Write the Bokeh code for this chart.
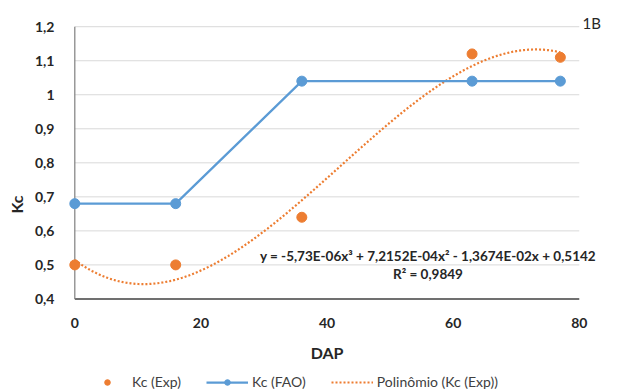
import numpy as np
from bokeh.plotting import figure
from bokeh.models import Legend, LegendItem, Label, Range1d, FixedTicker
from bokeh.core.properties import value
from bokeh.embed import file_html
from bokeh.resources import INLINE

# ---- data ----
dap = [0, 16, 36, 63, 77]
kc_exp = [0.50, 0.50, 0.64, 1.12, 1.11]
kc_fao = [0.68, 0.68, 1.04, 1.04, 1.04]
x_ticks = [0, 20, 40, 60, 80]
x_tick_labels = ["0", "20", "40", "60", "80"]
y_ticks = [0.4, 0.5, 0.6, 0.7, 0.8, 0.9, 1.0, 1.1, 1.2]
y_tick_labels = ["0,4", "0,5", "0,6", "0,7", "0,8", "0,9", "1", "1,1", "1,2"]
equation = "y = -5,73E-06x\u00b3 + 7,2152E-04x\u00b2 - 1,3674E-02x + 0,5142"
r2_text = "R\u00b2 = 0,9849"
panel_tag = "1B"

# cubic trend line fitted to the experimental points
coef = np.polyfit(dap, kc_exp, 3)
trend_x = np.linspace(min(dap), max(dap), 200)
trend_y = np.polyval(coef, trend_x)

ORANGE = "#ED7D31"
BLUE = "#5B9BD5"
FONT = "Lato"
TXT = "#262626"

Y0 = y_ticks[0]

p = figure(frame_width=536, frame_height=376, output_backend="svg", toolbar_location=None,
           x_range=Range1d(-1, 84), y_range=Range1d(0.125, 1.23),
           min_border_left=68, min_border_right=6, min_border_top=16,
           min_border_bottom=0, outline_line_color=None)

p.xgrid.visible = False
p.ygrid.visible = False
p.xaxis.visible = False

# grid lines
p.segment(x0=[x_ticks[0]] * (len(y_ticks) - 1), x1=[x_ticks[-1]] * (len(y_ticks) - 1),
          y0=y_ticks[1:], y1=y_ticks[1:], line_color="#D9D9D9", line_width=1)
# axis lines
p.segment(x0=[x_ticks[0]], x1=[x_ticks[-1]], y0=[Y0], y1=[Y0],
          line_color="#404040", line_width=1.5)
p.segment(x0=[x_ticks[0]], x1=[x_ticks[0]], y0=[Y0], y1=[y_ticks[-1]],
          line_color="#7F7F7F", line_width=1.2)

# x tick labels and x axis title (placed under the y=0.4 baseline)
p.text(x=x_ticks, y=[Y0] * len(x_ticks), text=x_tick_labels, y_offset=24,
       text_align="center", text_baseline="middle", text_font=value(FONT),
       text_font_style="bold", text_font_size="14px", text_color=TXT)
p.text(x=[(x_ticks[0] + x_ticks[-1]) / 2], y=[Y0], text=["DAP"], y_offset=54,
       text_align="center", text_baseline="middle", text_font=value(FONT),
       text_font_style="bold", text_font_size="16px", text_color=TXT)

trend = p.line(trend_x, trend_y, line_color=ORANGE, line_width=2.2, line_dash="2 2")
fao_line = p.line(dap, kc_fao, line_color=BLUE, line_width=2.25)
fao_pts = p.scatter(dap, kc_fao, size=10, marker="circle", fill_color=BLUE, line_color=BLUE)
exp_pts = p.scatter(dap, kc_exp, size=10, marker="circle", fill_color=ORANGE, line_color=ORANGE)

ax = p.yaxis[0]
ax.axis_line_color = None
ax.major_tick_line_color = None
ax.minor_tick_line_color = None
ax.major_tick_out = 0
ax.major_tick_in = 0
ax.minor_tick_out = 0
ax.minor_tick_in = 0
ax.major_label_text_font = FONT
ax.major_label_text_font_style = "bold"
ax.major_label_text_font_size = "14px"
ax.major_label_text_color = TXT
ax.axis_label_text_font = FONT
ax.axis_label_text_font_style = "bold"
ax.axis_label_text_font_size = "16px"
ax.axis_label_text_color = TXT
ax.ticker = FixedTicker(ticks=y_ticks)
ax.major_label_overrides = dict(zip(y_ticks, y_tick_labels))
ax.axis_label = "Kc"
ax.major_label_standoff = 14
ax.axis_label_standoff = 6

p.add_layout(Label(x=56, y=0.527, text=equation, text_align="center", text_baseline="middle",
                   text_font=FONT, text_font_style="bold", text_font_size="13.5px",
                   text_color=TXT))
p.add_layout(Label(x=56, y=0.473, text=r2_text, text_align="center", text_baseline="middle",
                   text_font=FONT, text_font_style="bold", text_font_size="13.5px",
                   text_color=TXT))
p.add_layout(Label(x=80.5, y=1.212, text=panel_tag, text_align="left", text_baseline="middle",
                   text_font=FONT, text_font_size="15px", text_color=TXT))

legend = Legend(items=[
    LegendItem(label="Kc (Exp)", renderers=[exp_pts]),
    LegendItem(label="Kc (FAO)", renderers=[fao_line, fao_pts]),
    LegendItem(label="Polinômio (Kc (Exp))", renderers=[trend]),
], orientation="horizontal", location=(18, 2))
legend.label_text_font = FONT
legend.label_text_font_size = "14px"
legend.label_text_color = "#404040"
legend.glyph_width = 42
legend.glyph_height = 14
legend.label_height = 14
legend.label_standoff = 4
legend.spacing = 25
legend.border_line_color = None
legend.background_fill_alpha = 0
legend.margin = 0
legend.padding = 0
p.add_layout(legend, "center")

open("out.html", "w").write(file_html(p, INLINE))
